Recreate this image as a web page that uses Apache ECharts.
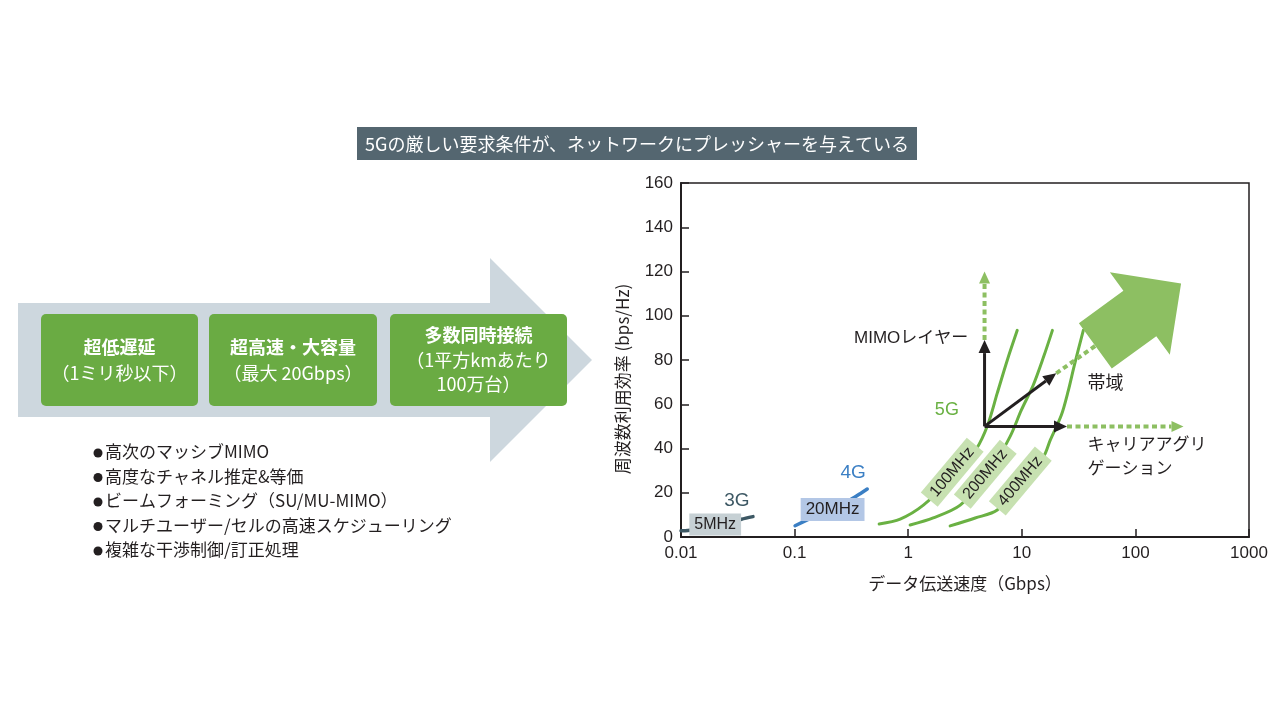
<!DOCTYPE html>
<html><head><meta charset="utf-8">
<script src="https://cdn.jsdelivr.net/npm/echarts@6/dist/echarts.min.js"></script>
<style>html,body{margin:0;padding:0;background:#fff}#c{width:1280px;height:720px}</style>
</head><body><div id="c"></div>
<script>
const FONT = "'Liberation Sans','Noto Sans CJK JP',sans-serif";
const JFONT = "'Noto Sans CJK JP','Liberation Sans',sans-serif";

// ---- data ----
const xTickLabels = ['0.01','0.1','1','10','100','1000'];
const yTicks = [0,20,40,60,80,100,120,140,160];

const g3_x = [0.01, 0.0115, 0.02, 0.027, 0.034, 0.043];
const g3_y = [2.8, 2.9, 4.7, 6.3, 8.0, 9.2];
const g4_x = [0.101, 0.15, 0.2, 0.3, 0.37, 0.436];
const g4_y = [5.1, 9.3, 12.4, 16.5, 19.3, 21.7];
const g5_100_x = [0.555, 0.85, 1.36, 2.59, 3.97, 5.0, 6.08, 7.45, 9.12];
const g5_100_y = [5.9, 8.1, 14.4, 28, 39.7, 50.5, 65, 79.9, 93.4];
const g5_200_x = [1.04, 1.66, 2.87, 5.07, 7.92, 9.9, 12.6, 15.5, 18.6];
const g5_200_y = [5.4, 8.6, 14.4, 28.4, 45.6, 57.3, 68.6, 81.2, 93.4];
const g5_400_x = [2.34, 3.89, 6.08, 9.7, 15.5, 17.8, 22.3, 25.7, 29.0, 34.8];
const g5_400_y = [5.0, 8.6, 12.2, 24.0, 36.2, 43.8, 55.1, 66.3, 77.6, 93.4];

// annotation anchors (data units)
const arrowOrigin = [4.7, 50];
const mimoTip = [4.7, 89], mimoEnd = [4.7, 120];
const caTip = [25, 50], caEnd = [265, 50];
const bwTip = [20.1, 74], bwEnd = [44.4, 86.4];

const boxTexts = [['超低遅延','（1ミリ秒以下）'],['超高速・大容量','（最大 20Gbps）'],['多数同時接続','（1平方kmあたり','100万台）']];
const bullets = ['高次のマッシブMIMO','高度なチャネル推定&等価','ビームフォーミング（SU/MU-MIMO）','マルチユーザー/セルの高速スケジューリング','複雑な干渉制御/訂正処理'];
const titleText = '5Gの厳しい要求条件が、ネットワークにプレッシャーを与えている';

const zip = (xs, ys) => xs.map((x, i) => [x, ys[i]]);

const chart = echarts.init(document.getElementById('c'));
const INK = '#231f20';
const GREEN = '#6ab143';
const LGREEN = '#8dbf62';

// left diagram graphics
const leftG = [];
leftG.push({type:'rect', shape:{x:357,y:127,width:560,height:33}, style:{fill:'#546670'}});
leftG.push({type:'text', x:637, y:144, style:{text:titleText, fill:'#fff', font:'18px '+JFONT, align:'center', verticalAlign:'middle'}});
leftG.push({type:'polygon', shape:{points:[[18,303],[490,303],[490,258],[592,360],[490,462],[490,417],[18,417]]}, style:{fill:'#cdd7de'}});
const boxes = [[41,157],[209,168],[390,177]];
boxes.forEach((b, i) => {
  leftG.push({type:'rect', shape:{x:b[0],y:314,width:b[1],height:92,r:5}, style:{fill:'#6aab43'}});
  const lines = boxTexts[i];
  const ys = lines.length === 2 ? [347, 373] : [335, 360, 384];
  lines.forEach((t, j) => {
    leftG.push({type:'text', x:b[0]+b[1]/2, y:ys[j], style:{text:t, fill:'#fff', font:(j===0?'bold ':'')+'18px '+JFONT, align:'center', verticalAlign:'middle'}});
  });
});
bullets.forEach((t, i) => {
  const y = 452 + i*24.5;
  leftG.push({type:'circle', shape:{cx:98, cy:y+1, r:4.5}, style:{fill:INK}});
  leftG.push({type:'text', x:105, y:y, style:{text:t, fill:INK, font:'17px '+JFONT, align:'left', verticalAlign:'middle'}});
});

const lineSeries = (name, data, color, w) => ({
  name, type:'line', data, smooth:0.3, showSymbol:false, symbol:'none',
  lineStyle:{color, width:w, cap:'round'}, z:2
});

chart.setOption({
  animation:false,
  textStyle:{fontFamily:FONT},
  grid:{left:681, right:31, top:183, bottom:183, show:true, borderColor:INK, borderWidth:1.5, backgroundColor:'transparent'},
  xAxis:{
    type:'log', logBase:10, min:0.01, max:1000,
    axisLine:{lineStyle:{color:INK, width:2}},
    axisTick:{inside:true, length:8, lineStyle:{color:INK, width:1.5}},
    minorTick:{show:false}, splitLine:{show:false},
    axisLabel:{color:INK, fontSize:17, margin:8, fontFamily:FONT,
      formatter:v => xTickLabels[Math.round(Math.log10(v)) + 2]},
    name:'データ伝送速度（Gbps）', nameLocation:'middle', nameGap:38,
    nameTextStyle:{color:INK, fontSize:17, fontFamily:JFONT}
  },
  yAxis:{
    type:'value', min:yTicks[0], max:yTicks[yTicks.length-1], interval:20,
    axisLine:{show:true, lineStyle:{color:INK, width:2}},
    axisTick:{show:true, inside:true, length:8, lineStyle:{color:INK, width:1.5}},
    splitLine:{show:false},
    axisLabel:{color:INK, fontSize:17, margin:8, fontFamily:FONT},
    name:'周波数利用効率 (bps/Hz)', nameLocation:'middle', nameGap:50,
    nameTextStyle:{color:INK, fontSize:17, fontFamily:JFONT, padding:[0,38,0,0]}
  },
  series:[
    lineSeries('3G', zip(g3_x, g3_y), '#3d5864', 3.5),
    lineSeries('4G', zip(g4_x, g4_y), '#3b7fc4', 3.5),
    lineSeries('5G 100MHz', zip(g5_100_x, g5_100_y), GREEN, 3),
    lineSeries('5G 200MHz', zip(g5_200_x, g5_200_y), GREEN, 3),
    lineSeries('5G 400MHz', zip(g5_400_x, g5_400_y), GREEN, 3)
  ],
  graphic:{elements:leftG}
});

// annotations positioned through the axes
const P = d => chart.convertToPixel({xAxisIndex:0, yAxisIndex:0}, d);
const ann = [];
function arrow(a, b, color, width, dash, headLen, headW, z, head) {
  const dx = b[0]-a[0], dy = b[1]-a[1], L = Math.hypot(dx, dy);
  const ux = dx/L, uy = dy/L, nx = -uy, ny = ux;
  const hb = head ? [b[0]-ux*headLen, b[1]-uy*headLen] : b;
  ann.push({type:'line', shape:{x1:a[0], y1:a[1], x2:hb[0], y2:hb[1]}, style:{stroke:color, lineWidth:width, lineDash:dash||null}, z});
  if (head) ann.push({type:'polygon', shape:{points:[[b[0],b[1]],[hb[0]+nx*headW/2, hb[1]+ny*headW/2],[hb[0]-nx*headW/2, hb[1]-ny*headW/2]]}, style:{fill:color}, z});
}
const O = P(arrowOrigin);
arrow(P(mimoTip), P(mimoEnd), LGREEN, 4, [5,3.5], 12, 11, 20, true);
arrow(P(caTip), P(caEnd), LGREEN, 4, [5,3.5], 12, 11, 20, true);
arrow(P(bwTip), P(bwEnd), LGREEN, 4, [5,3.5], 12, 11, 20, false);
arrow(O, P(mimoTip), INK, 3, null, 13, 12, 22, true);
arrow(O, P(caTip), INK, 3, null, 13, 12, 22, true);
arrow(O, P(bwTip), INK, 3, null, 13, 12, 22, true);

// big block arrow along bandwidth direction
(function(){
  const B = P(bwEnd);
  let ux = B[0]-O[0], uy = B[1]-O[1]; const L = Math.hypot(ux, uy); ux/=L; uy/=L;
  const nx = -uy, ny = ux;
  const pt = (s, t) => [B[0]+ux*s+nx*t, B[1]+uy*s+ny*t];
  ann.push({type:'polygon', z:25, style:{fill:LGREEN}, shape:{points:[pt(0,28),pt(55,28),pt(55,51),pt(106,0),pt(55,-51),pt(55,-28),pt(0,-28)]}});
})();

function label(d, text, opt) {
  const p = P(d);
  ann.push({type:'text', x:p[0], y:p[1], rotation:(opt.rot||0)*Math.PI/180, z:opt.z||30,
    style:{text, fill:opt.color||INK, font:(opt.size||17)+'px '+(opt.font||FONT), align:opt.align||'center', verticalAlign:'middle',
      backgroundColor:opt.bg||null, padding:opt.bg?(opt.pad||[3,6]):null}});
}
label([0.02, 5.6], '5MHz', {bg:'#c6d0d4', size:16, pad:[3,5]});
label([0.216, 12.4], '20MHz', {bg:'#b3c7e6', size:17, pad:[3,5]});
label([0.0311, 16.2], '3G', {color:'#3d5864', size:19});
label([0.327, 28.9], '4G', {color:'#3b7fc4', size:19});
label([2.19, 57.3], '5G', {color:GREEN, size:18});
label([2.44, 29.3], '100MHz', {bg:'#c7e1b1', size:16, rot:50, pad:[3,6]});
label([4.77, 28.4], '200MHz', {bg:'#c7e1b1', size:16, rot:50, pad:[3,6]});
label([9.7, 25.3], '400MHz', {bg:'#c7e1b1', size:16, rot:50, pad:[3,6]});
label([3.38, 90], 'MIMOレイヤー', {align:'right', size:17});
label([37.8, 70], '帯域', {align:'left', size:18, font:JFONT});
label([37.8, 42.4], 'キャリアアグリ', {align:'left', size:17, font:JFONT});
label([37.8, 31.6], 'ゲーション', {align:'left', size:17, font:JFONT});

chart.setOption({graphic:{elements:leftG.concat(ann)}});
</script></body></html>
